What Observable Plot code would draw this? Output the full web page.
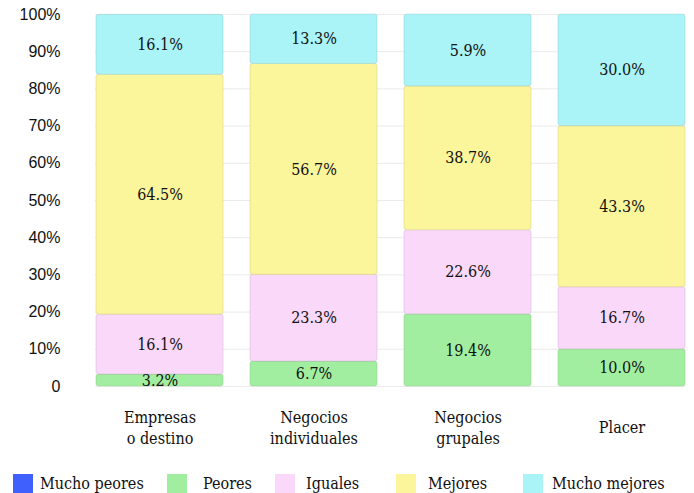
<!DOCTYPE html>
<html><head><meta charset="utf-8">
<script src="https://cdn.jsdelivr.net/npm/d3@7"></script>
<script src="https://cdn.jsdelivr.net/npm/@observablehq/plot@0.6"></script>
<style>
body{margin:0;background:#fff;}
#chart{position:relative;width:694px;height:493px;overflow:hidden;}
#chart svg{position:absolute;left:0;top:0;}
.legend{position:absolute;top:474px;left:0;width:694px;height:19px;font-family:"DejaVu Serif Condensed","DejaVu Serif",serif;font-size:16px;color:#111;}
.item{position:absolute;top:0;display:flex;align-items:center;height:19px;white-space:nowrap;}
.sw{width:20px;height:19px;}
</style></head><body><div id="chart"></div>
<script>
const categories = ["Empresas\no destino", "Negocios\nindividuales", "Negocios\ngrupales", "Placer"];
const seriesNames = ["Mucho peores", "Peores", "Iguales", "Mejores", "Mucho mejores"];
const muchoPeores = [0, 0, 0, 0];
const peores = [3.2, 6.7, 19.4, 10.0];
const iguales = [16.1, 23.3, 22.6, 16.7];
const mejores = [64.5, 56.7, 38.7, 43.3];
const muchoMejores = [16.1, 13.3, 19.3, 30.0];
const muchoMejoresPrinted = ["16.1%", "13.3%", "5.9%", "30.0%"];
const colors = ["#3f60fd", "#a2eea0", "#f9d8f9", "#fbf59c", "#aaf3f7"];
const yTicks = [0, 10, 20, 30, 40, 50, 60, 70, 80, 90, 100];
const yTickLabels = ["0", "10%", "20%", "30%", "40%", "50%", "60%", "70%", "80%", "90%", "100%"];

const seriesValues = [muchoPeores, peores, iguales, mejores, muchoMejores];
const data = [];
seriesNames.forEach((s, si) => {
  categories.forEach((c, ci) => {
    const v = seriesValues[si][ci];
    const label = s === "Mucho mejores" ? muchoMejoresPrinted[ci] : v.toFixed(1) + "%";
    data.push({cat: c, series: s, value: v, label, fillc: colors[si], strokec: d3.color(colors[si]).darker(0.6).formatHex()});
  });
});

const serif = "'DejaVu Serif Condensed','DejaVu Serif',serif";
const chart = Plot.plot({
  width: 694,
  height: 460,
  marginTop: 14,
  marginBottom: 74,
  marginLeft: 95,
  marginRight: 9,
  style: {fontFamily: serif, fontSize: "16px", color: "#111", background: "transparent"},
  x: {domain: categories, paddingInner: 0.178, paddingOuter: 0},
  y: {domain: [0, 100]},
  color: {domain: seriesNames, range: colors},
  marks: [
    Plot.gridY({ticks: yTicks, stroke: "#d8d8d8", strokeOpacity: 0.5}),
    Plot.barY(data, {x: "cat", y: "value", z: "series", fill: "fillc", stroke: "strokec", strokeOpacity: 0.35, strokeWidth: 1.2, rx: 3}),
    Plot.text(data.filter(d => d.value > 0), Plot.stackY({x: "cat", y: "value", z: "series", text: "label", fill: "#111", fontSize: 16})),
    Plot.axisY({ticks: yTicks, tickFormat: d => yTickLabels[yTicks.indexOf(d)], tickSize: 0, tickPadding: 35, fontFamily: "'Liberation Sans',Arial,sans-serif", fontSize: 16, label: null}),
    Plot.axisX({tickSize: 0, tickPadding: 40, lineAnchor: "middle", lineHeight: 1.3, fontSize: 16, label: null})
  ]
});
const root = document.getElementById("chart");
root.appendChild(chart);

const legend = document.createElement("div");
legend.className = "legend";
const lefts = [13, 167, 275, 396, 523];
const gaps = [7, 16, 11, 12, 9];
seriesNames.forEach((s, i) => {
  const it = document.createElement("div");
  it.className = "item";
  it.style.left = lefts[i] + "px";
  const sw = document.createElement("span");
  sw.className = "sw";
  sw.style.background = colors[i];
  sw.style.marginRight = gaps[i] + "px";
  const tx = document.createElement("span");
  tx.textContent = s;
  it.appendChild(sw); it.appendChild(tx);
  legend.appendChild(it);
});
root.appendChild(legend);
</script></body></html>
